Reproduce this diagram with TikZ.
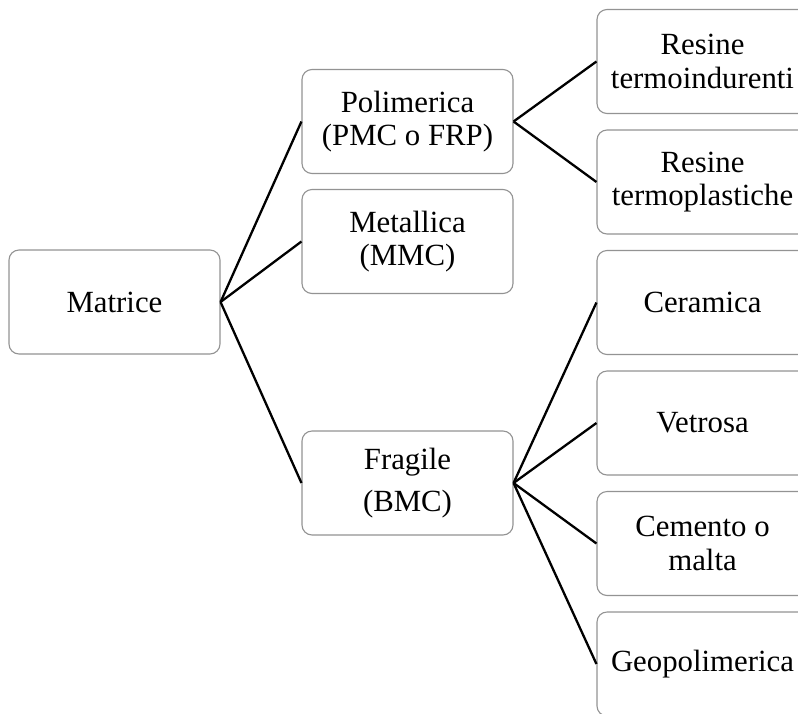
\documentclass[tikz,border=0pt]{standalone}
\usepackage{fontspec}
\setmainfont{Liberation Serif}
\begin{document}
\begin{tikzpicture}[x=1pt,y=-1pt,
  box/.style={draw=gray!85, line width=1.1pt, rounded corners=10pt, fill=white,
    minimum width=211pt, minimum height=104pt, inner sep=0pt, align=center,
    font=\fontsize{30.8}{33.5}\selectfont},
  link/.style={line width=2.3pt, black}]
\useasboundingbox (0,0) rectangle (798,713);
\clip (0,0) rectangle (798,713);
\node[box] (mat) at (114.5,302) {Matrice};
\node[box] (pol) at (407.5,121.5) {Polimerica\\(PMC o FRP)};
\node[box] (met) at (407.5,241.5) {Metallica\\(MMC)};
\node[box] (fra) at (407.5,483) {Fragile\\[8pt](BMC)};
\node[box] (ter) at (702.5,61.5) {Resine\\termoindurenti};
\node[box] (tpl) at (702.5,182) {Resine\\termoplastiche};
\node[box] (cer) at (702.5,302.5) {Ceramica};
\node[box] (vet) at (702.5,423) {Vetrosa};
\node[box] (cem) at (702.5,543.5) {Cemento o\\malta};
\node[box] (geo) at (702.5,664) {Geopolimerica};
\draw[link] (mat.east) -- (pol.west);
\draw[link] (mat.east) -- (met.west);
\draw[link] (mat.east) -- (fra.west);
\draw[link] (pol.east) -- (ter.west);
\draw[link] (pol.east) -- (tpl.west);
\draw[link] (fra.east) -- (cer.west);
\draw[link] (fra.east) -- (vet.west);
\draw[link] (fra.east) -- (cem.west);
\draw[link] (fra.east) -- (geo.west);
\end{tikzpicture}
\end{document}
